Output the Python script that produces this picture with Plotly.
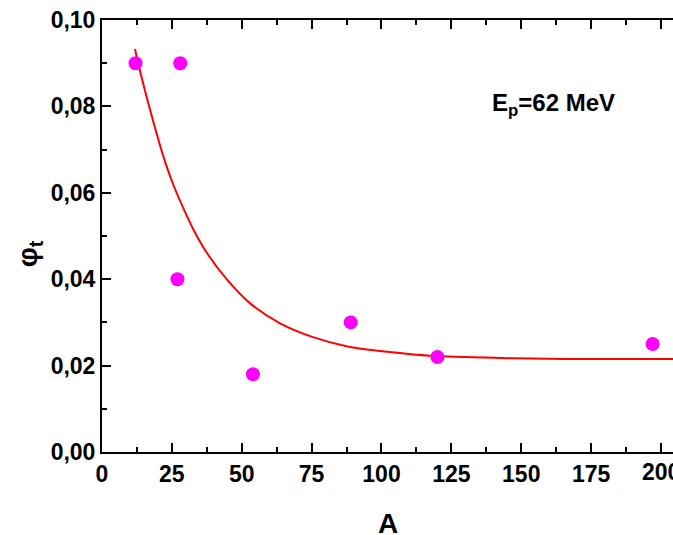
import plotly.graph_objects as go

# Data points (A, phi_t)
A_vals = [12, 28, 27, 54, 89, 120, 197]
phi_vals = [0.090, 0.090, 0.040, 0.018, 0.030, 0.022, 0.025]

# Fit curve
curve_x = [11.8, 13.3, 17.2, 20.8, 23.4, 25.8, 29.7, 32.7, 37.2, 44.6, 53.0, 63.7, 75.5, 87.5, 99.5, 106.6, 119.7, 147, 175.7, 204.3]
curve_y = [0.0933, 0.0890, 0.0792, 0.0709, 0.0656, 0.0614, 0.0556, 0.0515, 0.0464, 0.0400, 0.0344, 0.0298, 0.0266, 0.0245, 0.0234, 0.0229, 0.0222, 0.0217, 0.0215, 0.0215]

x_ticks = [0, 25, 50, 75, 100, 125, 150, 175, 200]
x_labels = ["0", "25", "50", "75", "100", "125", "150", "175", ""]
y_ticks = [0.00, 0.02, 0.04, 0.06, 0.08, 0.10]

FONT = "Liberation Sans, Arial, sans-serif"
TICK_SIZE = 23

fig = go.Figure()
fig.add_trace(go.Scatter(x=curve_x, y=curve_y, mode="lines",
                         line=dict(color="#FF0000", width=2, shape="spline"),
                         hoverinfo="skip", showlegend=False))
fig.add_trace(go.Scatter(x=A_vals, y=phi_vals, mode="markers",
                         marker=dict(color="#FF00FF", size=14, line=dict(width=0)),
                         showlegend=False))

axis_common = dict(
    showgrid=False, zeroline=False, showline=True, linecolor="black", linewidth=2,
    ticks="inside", ticklen=9, tickwidth=2, tickcolor="black",
    tickfont=dict(family=FONT, size=TICK_SIZE, color="black", weight="bold"),
)

fig.update_xaxes(range=[0, 204.3], tickvals=x_ticks, ticktext=x_labels, mirror="ticks",
                 minor=dict(ticks="inside", ticklen=5, tickwidth=2, tickcolor="black", dtick=12.5, tick0=0),
                 **axis_common)
fig.update_yaxes(range=[0, 0.10], tickvals=y_ticks, tickformat=".2f",
                 minor=dict(ticks="inside", ticklen=5, tickwidth=2, tickcolor="black", dtick=0.01, tick0=0),
                 **axis_common)

# label for the last x tick, partly cut at the right edge as in the reference
fig.add_annotation(text="<b>" + str(x_ticks[-1]) + "</b>", x=x_ticks[-1], xref="x", yref="paper", y=-0.047,
                   xanchor="center", yanchor="middle", showarrow=False,
                   font=dict(family=FONT, size=TICK_SIZE, color="black"))

fig.add_annotation(text="<b>A</b>", xref="paper", yref="paper", x=0.5, y=-0.125,
                   xanchor="center", yanchor="top", showarrow=False,
                   font=dict(family=FONT, size=28, color="black"))
fig.add_annotation(text="<b>φ<sub>t</sub></b>", xref="paper", yref="paper", x=-0.128, y=0.46,
                   xanchor="center", yanchor="middle", textangle=-90, showarrow=False,
                   font=dict(family=FONT, size=28, color="black"))
fig.add_annotation(text="<b>E<sub>p</sub>=62 MeV</b>", x=139, y=0.0805,
                   xanchor="left", yanchor="middle", showarrow=False,
                   font=dict(family=FONT, size=24, color="black"))

fig.update_layout(
    width=673, height=535,
    margin=dict(l=102, r=0, t=20, b=83),
    plot_bgcolor="white", paper_bgcolor="white",
    separators=", ",
)

fig.write_html("out.html")
